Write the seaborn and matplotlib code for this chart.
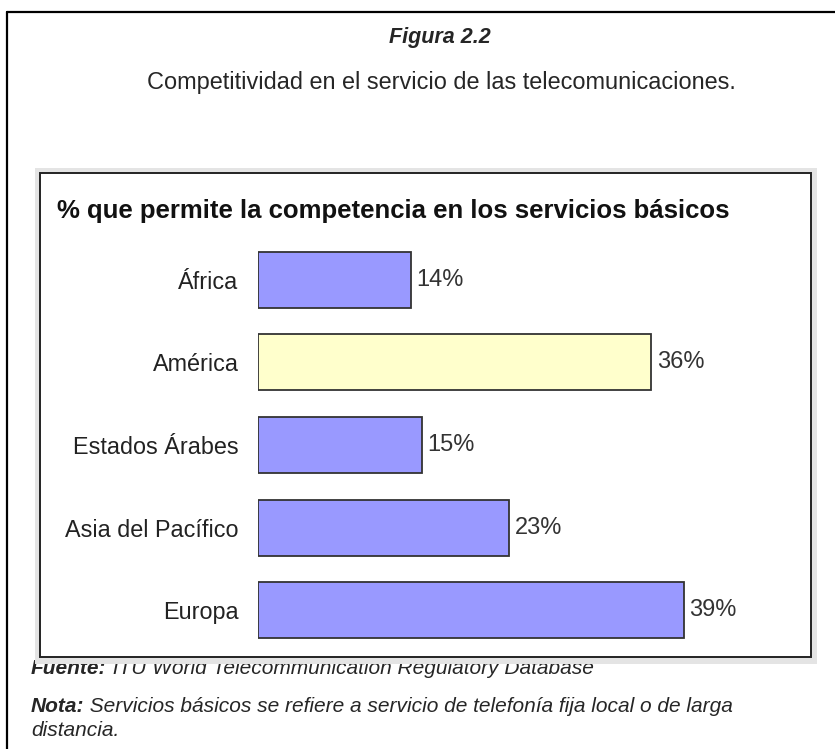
import matplotlib
matplotlib.use("Agg")
import matplotlib.pyplot as plt
import seaborn as sns
import pandas as pd
from matplotlib.patches import Rectangle
from matplotlib.lines import Line2D

# Data
regiones = ["África", "América", "Estados Árabes", "Asia del Pacífico", "Europa"]
porcentajes = [14, 36, 15, 23, 39]
colores = ["#9999ff", "#ffffcc", "#9999ff", "#9999ff", "#9999ff"]

df = pd.DataFrame({"region": regiones, "pct": porcentajes})

sns.set_style("white")
plt.rcParams["font.family"] = ["Liberation Sans", "DejaVu Sans"]

W, H = 835, 749
fig = plt.figure(figsize=(W / 100, H / 100), dpi=100)
fig.patch.set_facecolor("white")

def fx(px):
    return px / W

def fy(py):
    return 1 - py / H

# outer border (left and top only visible)
fig.add_artist(Line2D([fx(7), fx(7)], [fy(12), 0], color="black", lw=1.6, transform=fig.transFigure))
fig.add_artist(Line2D([fx(7), 1], [fy(12), fy(12)], color="black", lw=1.6, transform=fig.transFigure))

# header
fig.text(fx(440), fy(38), "Figura 2.2", ha="center", va="center", fontsize=15.5,
         fontweight="bold", fontstyle="italic")
fig.text(fx(441), fy(82), "Competitividad en el servicio de las telecomunicaciones.",
         ha="center", va="center", fontsize=16.9)

# footnotes (Fuente is partly hidden by the chart box)
renderer = fig.canvas.get_renderer()

def mixed(x, y, bold_part, rest, z):
    t1 = fig.text(fx(x), fy(y), bold_part, ha="left", va="center", fontsize=15,
                  fontweight="bold", fontstyle="italic", zorder=z)
    bb = t1.get_window_extent(renderer=renderer)
    fig.text(bb.x1 / W, fy(y), rest, ha="left", va="center", fontsize=15,
             fontstyle="italic", zorder=z)

mixed(31, 669, "Fuente:", " ITU World Telecommunication Regulatory Database", 0.5)
mixed(31, 706, "Nota:", " Servicios básicos se refiere a servicio de telefonía fija local o de larga", 0.5)
fig.text(fx(31), fy(730), "distancia.", ha="left", va="center", fontsize=15,
         fontstyle="italic")

# chart box: grey shadow + framed white panel
fig.add_artist(Rectangle((fx(35), fy(664)), fx(817 - 35), (664 - 168) / H,
                         transform=fig.transFigure, facecolor="#e4e4e4",
                         edgecolor="none", zorder=1))
fig.add_artist(Rectangle((fx(40), fy(657)), fx(811 - 40), (657 - 173) / H,
                         transform=fig.transFigure, facecolor="white",
                         edgecolor="#222222", lw=1.4, zorder=1.1))
fig.text(fx(57), fy(211), "% que permite la competencia en los servicios básicos",
         ha="left", va="center", fontsize=18.5, fontweight="bold", color="#111111",
         zorder=2)

# bar axes
ax_left, ax_right = 258, 800
ax_top, ax_bot = 238.5, 651.5
ax = fig.add_axes([fx(ax_left), fy(ax_bot), fx(ax_right - ax_left), (ax_bot - ax_top) / H])
ax.set_zorder(3)
ax.patch.set_alpha(0)

sns.barplot(data=df, x="pct", y="region", hue="region", palette=colores, legend=False,
            saturation=1, width=0.68, edgecolor="#333333", linewidth=1.3, ax=ax)

ax.set_xlim(0, (ax_right - ax_left) / 10.92)
ax.set_ylim(4.5, -0.5)
for s in ax.spines.values():
    s.set_visible(False)
ax.set_xticks([])
ax.set_xlabel("")
ax.set_ylabel("")
ax.tick_params(axis="y", length=0, pad=14, labelsize=16.8, labelcolor="#222222")

for i, v in enumerate(porcentajes):
    ax.text(v + 0.5, i, f"{v}%", ha="left", va="center", fontsize=17, color="#333333")

fig.savefig("out.png", dpi=100)
